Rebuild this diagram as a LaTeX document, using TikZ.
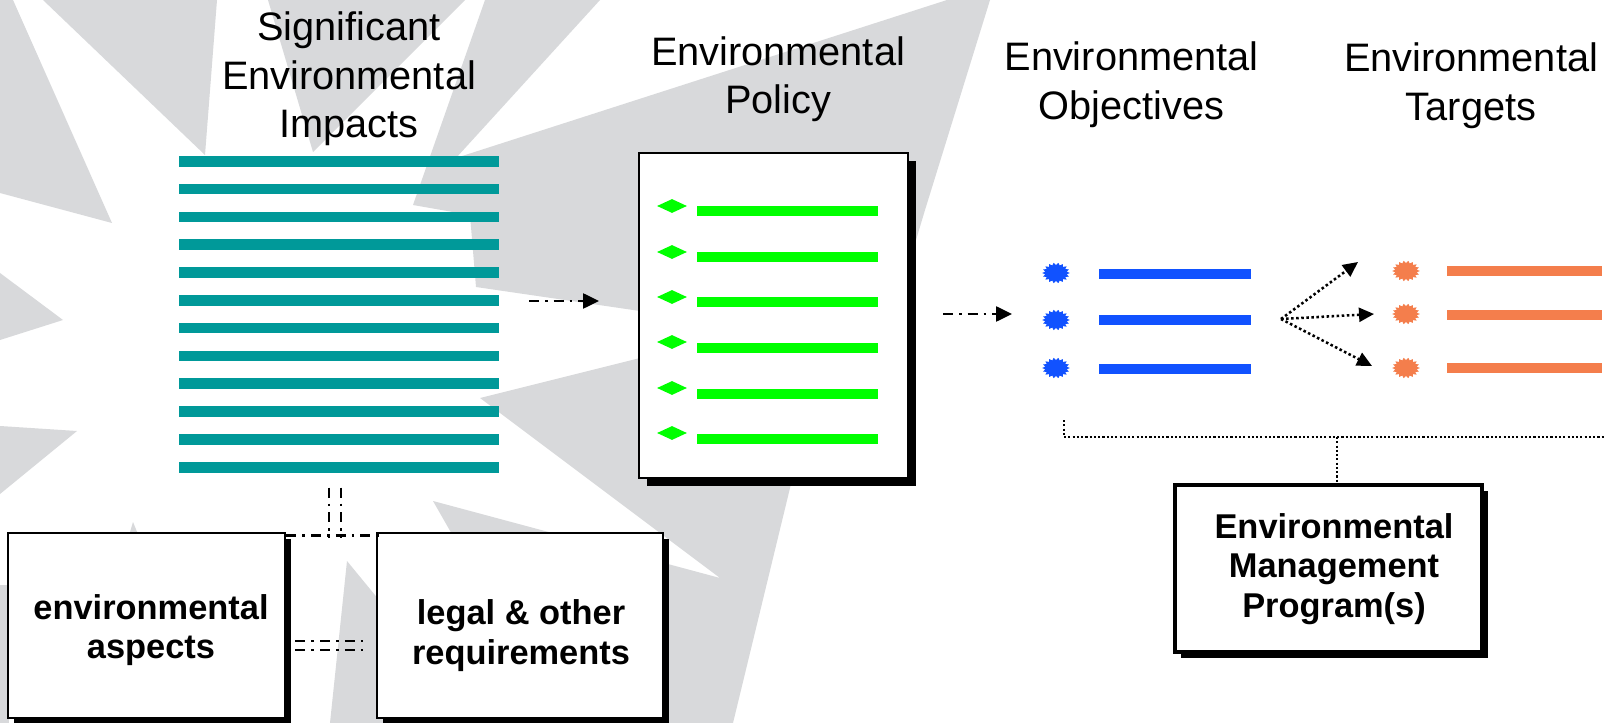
\documentclass[tikz,border=0pt]{standalone}
\usepackage{fontspec}
\setmainfont{Liberation Sans}
\usetikzlibrary{arrows.meta,shapes.geometric,shadows,calc}
\newcommand\PX{0.75pt}
\definecolor{bg}{RGB}{216,217,219}
\definecolor{tealc}{RGB}{0,153,153}
\definecolor{grn}{RGB}{0,255,0}
\definecolor{blu}{RGB}{17,82,255}
\definecolor{org}{RGB}{244,126,76}
\begin{document}
\begin{tikzpicture}[x=0.75pt,y=-0.75pt,
  ttl/.style={font=\fontsize{29.8}{36.2}\selectfont, align=center, inner sep=0pt, anchor=base},
  boxtxt/.style={font=\bfseries\fontsize{25.8}{29.6}\selectfont, align=center, inner sep=0pt, anchor=base},
  sbox/.style={draw=black, fill=white, inner sep=0pt,
    drop shadow={shadow xshift=#1, shadow yshift=-#1, fill=black, opacity=1}},
  dd/.style={line width=1.9pt, dash pattern=on 7.5pt off 4.5pt on 2pt off 4.5pt},
  dt/.style={line width=1.9pt, dash pattern=on 1.9pt off 1.9pt},
  dtb/.style={line width=1.6pt, dash pattern=on 1.6pt off 1.6pt},
  tipa/.style={-{Triangle[length=12pt,width=11.25pt]}},
  tipb/.style={-{Triangle[length=11.25pt,width=10.5pt]}},
  burst/.style={minimum width=29*\PX, minimum height=22*\PX, inner sep=0pt,
    path picture={\fill[#1, shift={(path picture bounding box.center)}]
      plot[samples at={0,...,35}] ({(13.8-3*mod(\x,2))*cos(10*\x)},{(10.3-2.3*mod(\x,2))*sin(10*\x)}) -- cycle;}},
  gdia/.style={diamond, fill=grn, inner sep=0pt, minimum width=30*\PX, minimum height=14*\PX},
]
\useasboundingbox (0,0) rectangle (1605,723);
\fill[white] (0,0) rectangle (1605,723);
% background watermark
\fill[bg] (0,0)--(13,0)--(112,223)--(0,193)--cycle;
\fill[bg] (43,0)--(217,0)--(205,155)--cycle;
\fill[bg] (0,273)--(63,320)--(0,340)--cycle;
\fill[bg] (0,426)--(77,431)--(0,494)--cycle;
\fill[bg] (0,585)--(9,585)--(9,723)--(0,723)--cycle;
\fill[bg] (268,0)--(465,0)--(313,152)--cycle;
\fill[bg] (485,0)--(600,0)--(456,158)--(947,0)--(990,0)--(925,210)--(889,330)--(640,311)--(476,287)--(470,215)--(413,205)--cycle;
\fill[bg] (480,398)--(640,358)--(880,335)--(820,360)--(790,488)--(733,723)--(560,723)--(433,501)--(720,578)--cycle;
\fill[bg] (347,561)--(480,723)--(330,723)--cycle;
\fill[bg] (133,522)--(165,600)--(110,600)--cycle;

% titles (anchor = baseline of last line)
\node[ttl] (t1) at (349,137.3) {Significant\\Environmental\\Impacts};
\node[ttl] (t2) at (778,113.4) {Environmental\\Policy};
\node[ttl] (t3) at (1131.5,119.2) {Environmental\\Objectives};
\node[ttl] (t4) at (1471,120.2) {Environmental\\Targets};

% impacts bars
\node[inner sep=0pt, minimum width=320*\PX, minimum height=316.4*\PX,
  path picture={\foreach \i in {0,...,11}
    \fill[tealc] ($(path picture bounding box.north west)+(0,{27.8*\i})$) rectangle ++(320,10.7);}]
  (sei) at (339,314.2) {};

% policy box
\node[sbox=6pt, line width=1.5pt, minimum width=269*\PX, minimum height=325*\PX] (pol) at (773.5,315.5) {};
\foreach \y/\yb [count=\k] in {206/211,252/257,297/302,342/348,388/394,433/439} {
  \node[gdia] (pd\k) at (672,\y) {};
  \fill[grn] (697,\yb-5.3) rectangle (878,\yb+5.3);
}

% arrows
\coordinate (a1s) at (529,301);
\coordinate (a1e) at (599,301);
\draw[dd,tipa] (a1s) -- (a1e);
\coordinate (a2s) at (943,314);
\coordinate (a2e) at (1012,314);
\draw[dd,tipa] (a2s) -- (a2e);

% objectives
\foreach \y/\yb [count=\k] in {273/274,320/320,368/369} {
  \node[burst=blu] (ob\k) at (1056,\y) {};
  \fill[blu] (1099,\yb-5.4) rectangle (1251,\yb+5.4);
}
% targets
\foreach \y/\yb [count=\k] in {271/271,314/315,368/368} {
  \node[burst=org] (tg\k) at (1406,\y) {};
  \fill[org] (1447,\yb-5.4) rectangle (1602,\yb+5.4);
}
\coordinate (fan) at (1281,319);
\coordinate (f1) at (1358,262);
\coordinate (f2) at (1374,314);
\coordinate (f3) at (1372,366);
\draw[dt,tipb] (fan) -- (f1);
\draw[dt,tipb] (fan) -- (f2);
\draw[dt,tipb] (fan) -- (f3);

% EMP box
\node[sbox=4.5pt, line width=3pt, minimum width=307*\PX, minimum height=167*\PX] (emp) at (1328.5,568.5) {};
\node[boxtxt] (empt) at (1334,617) {Environmental\\Management\\Program(s)};
\coordinate (bl) at (1064,420);
\coordinate (br) at (1337,437);
\coordinate (bre) at (1605,437);
\draw[dtb] (bl) -- (bl |- br) -- (bre);
\draw[dtb] (br) -- (br |- emp.north);

% lower boxes
\node[sbox=4.5pt, line width=2.2pt, minimum width=277*\PX, minimum height=185*\PX] (asp) at (146.5,625.5) {};
\node[boxtxt] (aspt) at (151,658.5) {environmental\\aspects};
\node[sbox=4.5pt, line width=2.2pt, minimum width=286*\PX, minimum height=185*\PX] (leg) at (520,625.5) {};
\node[boxtxt] (legt) at (521,664) {legal \& other\\requirements};

\draw[dd] ($(asp.north east)+(0,4)$) -- ($(leg.north west)+(8,4)$);
\draw[dd] ($(sei.south)+(-10,15)$) -- ($(sei.south)+(-10,65)$);
\draw[dd] ($(sei.south)+(2,15)$) -- ($(sei.south)+(2,65)$);
\draw[dd] ($(asp.east)+(9,15.5)$) -- ($(leg.west)+(-11,15.5)$);
\draw[dd] ($(asp.east)+(9,24.5)$) -- ($(leg.west)+(-11,24.5)$);
\end{tikzpicture}
\end{document}
